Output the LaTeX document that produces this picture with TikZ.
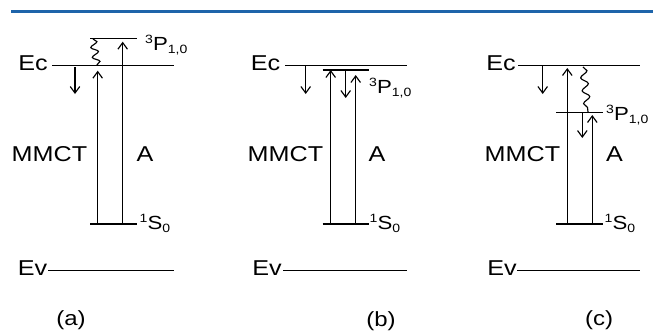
\documentclass[tikz,border=0pt]{standalone}
\usepackage{fontspec}
\setmainfont[FakeStretch=1.17]{Liberation Sans}
\usetikzlibrary{arrows.meta,decorations.pathmorphing}
\definecolor{rulebl}{RGB}{30,100,170}
\newcommand\smallfnt{\fontsize{12}{12}\selectfont}
\newcommand\lvlab[3]{{\smallfnt\raisebox{7pt}{#1}}#2{\smallfnt\raisebox{-3pt}{#3}}}
\begin{document}
\begin{tikzpicture}[x=1pt,y=-1pt,
  lvl/.style={line width=1.15pt},
  uparr/.style={line width=1.15pt,-{Straight Barb[length=6.5pt,width=9.5pt]}},
  wavy/.style={line width=1.15pt,decorate,decoration={snake,amplitude=3.5pt,segment length=10pt}},
  lbl/.style={inner sep=0pt,font=\fontsize{21.5}{24}\selectfont},
  lvltxt/.style={inner sep=0pt,font=\fontsize{19}{20}\selectfont},
  panellbl/.style={inner sep=0pt,font=\fontsize{20.5}{22}\selectfont},
]
\useasboundingbox (0,0) rectangle (653,333);
% top rule
\coordinate (r0) at (11,11.7); \coordinate (r1) at (653,11.7);
\draw[rulebl,line width=3pt] (r0) -- (r1);

% ---------------- (a)
\coordinate (aEc0) at (52,65.7);  \coordinate (aEc1) at (174,65.7);
\coordinate (aEv0) at (48,270.7); \coordinate (aEv1) at (174,270.7);
\coordinate (aP0) at (90,38.3);   \coordinate (aP1) at (137,38.3);
\coordinate (aS0) at (90,224);    \coordinate (aS1) at (137,224);
\draw[lvl] (aEc0) -- (aEc1); \draw[lvl] (aEv0) -- (aEv1);
\draw[lvl] (aP0) -- (aP1);   \draw[lvl] (aS0) -- (aS1);
\node[lbl,anchor=base east] (aEc) at (48,70.5) {Ec};
\node[lbl,anchor=base east] (aEv) at (47.5,275.5) {Ev};
\node[lbl,anchor=base west] (aMM) at (11.5,161) {MMCT};
\node[lbl,anchor=base west] (aA) at (136.5,161) {A};
\node[lvltxt,anchor=base west] (aPl) at (145,50) {\lvlab{3}{P}{1,0}};
\node[lvltxt,anchor=base west] (aSl) at (139.5,229.5) {\lvlab{1}{S}{0}};
\node[panellbl] (acap) at (71,320) {(a)};
\coordinate (ad0) at (75,67); \coordinate (ad1) at (75,94);
\draw[uparr] (ad0) -- (ad1);
\coordinate (aw0) at (93,39); \coordinate (aw1) at (97,65);
\draw[wavy] (aw0) -- (aw1);
\coordinate (am0) at (97.7,224); \coordinate (am1) at (97.7,70.7);
\draw[uparr] (am0) -- (am1);
\coordinate (aa0) at (122.7,224); \coordinate (aa1) at (122.7,41.7);
\draw[uparr] (aa0) -- (aa1);

% ---------------- (b)
\coordinate (bEc0) at (285,65.7);  \coordinate (bEc1) at (407,65.7);
\coordinate (bEv0) at (283,270.7); \coordinate (bEv1) at (407,270.7);
\coordinate (bP0) at (322.7,70);   \coordinate (bP1) at (369,70);
\coordinate (bS0) at (322.7,224);  \coordinate (bS1) at (369,224);
\draw[lvl] (bEc0) -- (bEc1); \draw[lvl] (bEv0) -- (bEv1);
\draw[lvl] (bP0) -- (bP1);   \draw[lvl] (bS0) -- (bS1);
\node[lbl,anchor=base east] (bEc) at (280.5,70.5) {Ec};
\node[lbl,anchor=base east] (bEv) at (282,275.5) {Ev};
\node[lbl,anchor=base west] (bMM) at (247.5,161) {MMCT};
\node[lbl,anchor=base west] (bA) at (368.5,161) {A};
\node[lvltxt,anchor=base west] (bPl) at (369,93) {\lvlab{3}{P}{1,0}};
\node[lvltxt,anchor=base west] (bSl) at (369.5,229.5) {\lvlab{1}{S}{0}};
\node[panellbl] (bcap) at (381,321) {(b)};
\coordinate (bd0) at (305.7,66); \coordinate (bd1) at (305.7,94);
\draw[uparr] (bd0) -- (bd1);
\coordinate (bm0) at (330.7,224); \coordinate (bm1) at (330.7,70);
\draw[uparr] (bm0) -- (bm1);
\coordinate (be0) at (345.7,70); \coordinate (be1) at (345.7,98);
\draw[uparr] (be0) -- (be1);
\coordinate (ba0) at (355.7,224); \coordinate (ba1) at (355.7,75);
\draw[uparr] (ba0) -- (ba1);

% ---------------- (c)
\coordinate (cEc0) at (518,65.7);  \coordinate (cEc1) at (640,65.7);
\coordinate (cEv0) at (517,270.7); \coordinate (cEv1) at (640,270.7);
\coordinate (cP0) at (556,112.7);  \coordinate (cP1) at (603,112.7);
\coordinate (cS0) at (556,224);    \coordinate (cS1) at (603,224);
\draw[lvl] (cEc0) -- (cEc1); \draw[lvl] (cEv0) -- (cEv1);
\draw[lvl] (cP0) -- (cP1);   \draw[lvl] (cS0) -- (cS1);
\node[lbl,anchor=base east] (cEc) at (516,70.5) {Ec};
\node[lbl,anchor=base east] (cEv) at (517,275.5) {Ev};
\node[lbl,anchor=base west] (cMM) at (484.5,161) {MMCT};
\node[lbl,anchor=base west] (cA) at (606,161) {A};
\node[lvltxt,anchor=base west] (cPl) at (606,120) {\lvlab{3}{P}{1,0}};
\node[lvltxt,anchor=base west] (cSl) at (604.5,229.5) {\lvlab{1}{S}{0}};
\node[panellbl] (ccap) at (599,320) {(c)};
\coordinate (cd0) at (542.7,66); \coordinate (cd1) at (542.7,94);
\draw[uparr] (cd0) -- (cd1);
\coordinate (cm0) at (567.3,224); \coordinate (cm1) at (567.3,68);
\draw[uparr] (cm0) -- (cm1);
\coordinate (cw0) at (583,67); \coordinate (cw1) at (588,112);
\draw[wavy,decoration={segment length=13pt}] (cw0) -- (cw1);
\coordinate (ce0) at (582.3,113); \coordinate (ce1) at (582.3,138);
\draw[uparr] (ce0) -- (ce1);
\coordinate (ca0) at (592.3,224); \coordinate (ca1) at (592.3,115);
\draw[uparr] (ca0) -- (ca1);
\end{tikzpicture}
\end{document}
